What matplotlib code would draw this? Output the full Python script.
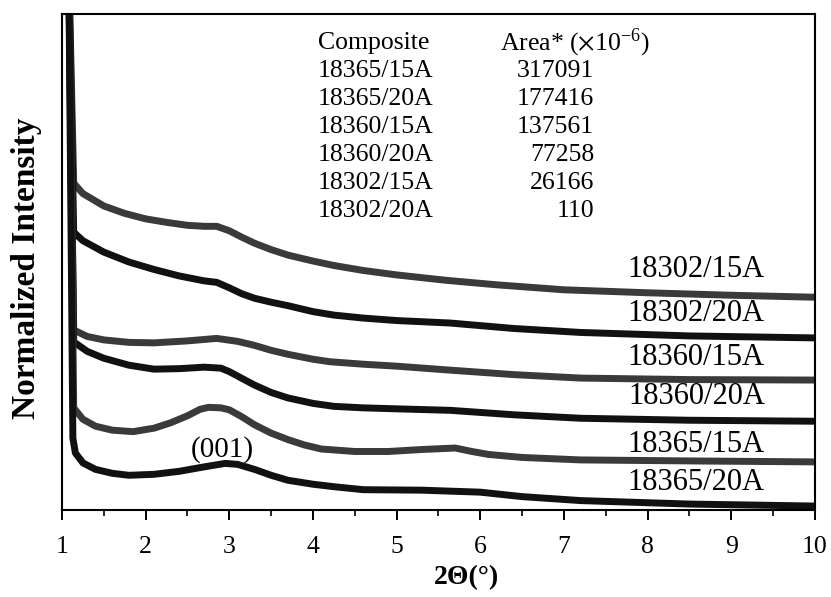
import matplotlib
matplotlib.use('Agg')
import matplotlib.pyplot as plt
from matplotlib.ticker import MultipleLocator

plt.rcParams['font.family'] = ['Liberation Serif', 'DejaVu Serif']
plt.rcParams['mathtext.fontset'] = 'stix'

# ---------- データ ----------
X_RISE = 1.08      # 立ち上がり（上端でクリップ）
Y_RISE = 110

x_18302_15 = [1.14, 1.25, 1.5, 1.75, 2.0, 2.25, 2.5, 2.7, 2.85, 3.0, 3.15, 3.3, 3.5, 3.7,
              4.0, 4.25, 4.6, 5.0, 5.6, 6.2, 7.0, 8.0, 9.0, 10.0]
y_18302_15 = [65.9, 63.8, 61.3, 59.8, 58.7, 58.0, 57.4, 57.2, 57.2, 56.3, 55.0, 53.8, 52.5, 51.4,
              50.2, 49.3, 48.3, 47.4, 46.3, 45.4, 44.4, 43.8, 43.3, 42.9]

x_18302_20 = [1.14, 1.25, 1.5, 1.8, 2.1, 2.4, 2.7, 2.85, 3.0, 3.15, 3.3, 3.5, 3.7, 4.0,
              4.25, 4.6, 5.0, 5.64, 6.4, 7.2, 8.5, 10.0]
y_18302_20 = [56.0, 54.3, 52.0, 50.0, 48.5, 47.2, 46.2, 45.9, 44.8, 43.6, 42.7, 41.9, 41.2, 40.0,
              39.3, 38.7, 38.2, 37.7, 36.6, 35.8, 35.1, 34.7]

x_18360_15 = [1.14, 1.3, 1.5, 1.8, 2.1, 2.5, 2.85, 3.1, 3.3, 3.5, 3.7, 4.0, 4.2, 4.6,
              5.0, 5.64, 6.4, 7.2, 8.5, 10.0]
y_18360_15 = [36.3, 35.0, 34.3, 33.8, 33.7, 34.1, 34.6, 34.0, 33.2, 32.2, 31.4, 30.4, 29.9, 29.4,
              29.0, 28.2, 27.3, 26.6, 26.3, 26.2]

x_18360_20 = [1.14, 1.3, 1.5, 1.8, 2.1, 2.4, 2.7, 2.9, 3.0, 3.1, 3.3, 3.5, 3.7, 4.0,
              4.25, 4.6, 5.0, 5.64, 6.4, 7.2, 8.5, 10.0]
y_18360_20 = [33.9, 32.0, 30.6, 29.2, 28.4, 28.5, 28.8, 28.6, 27.9, 27.0, 25.2, 23.7, 22.6, 21.5,
              20.9, 20.6, 20.4, 20.1, 19.2, 18.5, 18.1, 17.9]

x_18365_15 = [1.14, 1.25, 1.4, 1.6, 1.85, 2.1, 2.3, 2.5, 2.65, 2.75, 2.9, 3.0, 3.15, 3.3,
              3.5, 3.7, 3.9, 4.1, 4.5, 4.9, 5.3, 5.7, 5.9, 6.1, 6.5, 7.2, 8.5, 10.0]
y_18365_15 = [20.6, 18.3, 16.9, 16.1, 15.8, 16.5, 17.6, 19.0, 20.3, 20.7, 20.6, 20.2, 18.8, 17.2,
              15.5, 14.2, 13.1, 12.3, 11.8, 11.8, 12.2, 12.5, 11.8, 11.2, 10.6, 10.1, 9.9, 9.7]

x_18365_20 = [1.13, 1.16, 1.25, 1.4, 1.6, 1.8, 2.1, 2.4, 2.7, 2.95, 3.1, 3.3, 3.5, 3.7,
              4.0, 4.25, 4.6, 5.3, 6.0, 6.5, 7.2, 8.5, 10.0]
y_18365_20 = [14.5, 11.5, 9.5, 8.2, 7.4, 7.0, 7.2, 7.8, 8.7, 9.4, 9.2, 8.2, 7.0, 6.0,
              5.2, 4.7, 4.1, 4.0, 3.6, 2.7, 1.9, 1.2, 0.8]

curve_names = ['18302/15A', '18302/20A', '18360/15A', '18360/20A', '18365/15A', '18365/20A']
curve_x = [x_18302_15, x_18302_20, x_18360_15, x_18360_20, x_18365_15, x_18365_20]
curve_y = [y_18302_15, y_18302_20, y_18360_15, y_18360_20, y_18365_15, y_18365_20]
label_y = [48.4, 39.7, 30.8, 22.8, 13.3, 5.6]

table_names = ['18365/15A', '18365/20A', '18360/15A', '18360/20A', '18302/15A', '18302/20A']
table_area = ['317091', '177416', '137561', '77258', '26166', '110']

# ---------- 描画 ----------
fig = plt.figure(figsize=(8.31, 5.97), dpi=100)
ax = fig.add_axes([0.0746, 0.1457, 0.9061, 0.8308])

colors = ['#3a3a3a', '#111111', '#3a3a3a', '#111111', '#3a3a3a', '#111111']
for xs, ys, c in zip(curve_x, curve_y, colors):
    ax.plot([X_RISE] + xs, [Y_RISE] + ys, color=c, lw=5.0,
            solid_joinstyle='round', solid_capstyle='butt')

for name, yy in zip(curve_names, label_y):
    ax.text(9.40, yy, name, fontsize=22, ha='right', va='center')

ax.text(2.92, 12.1, '(001)', fontsize=21, ha='center', va='center')

# 表（Composite / Area）
row_y = [94.2, 88.6, 82.9, 77.2, 71.6, 66.0, 60.3]
ax.text(4.06, row_y[0], 'Composite', fontsize=18.5, ha='left', va='center')
ax.text(6.23, row_y[0], r'Area* ($\times$10$^{\mathregular{-6}}$)', fontsize=18.5,
        ha='left', va='center')
for yy, name, area in zip(row_y[1:], table_names, table_area):
    ax.text(4.06, yy, name, fontsize=18.5, ha='left', va='center')
    ax.text(7.36, yy, area, fontsize=18.5, ha='right', va='center')

ax.set_xlim(1, 10)
ax.set_ylim(0, 100)
ax.xaxis.set_major_locator(MultipleLocator(1))
ax.xaxis.set_minor_locator(MultipleLocator(0.5))
ax.tick_params(axis='x', which='major', direction='out', length=7.5, width=1.4,
               labelsize=18.5, pad=11)
ax.tick_params(axis='x', which='minor', direction='out', length=4.5, width=1.2)
ax.set_yticks([])
for sp in ax.spines.values():
    sp.set_linewidth(1.5)

fig.text(0.561, 0.032, '2Θ(°)', fontsize=20, weight='bold', ha='center', va='center')
fig.text(0.032, 0.551, 'Normalized Intensity', fontsize=24, weight='bold',
         rotation=90, ha='center', va='center')

fig.savefig('out.png', dpi=100)
